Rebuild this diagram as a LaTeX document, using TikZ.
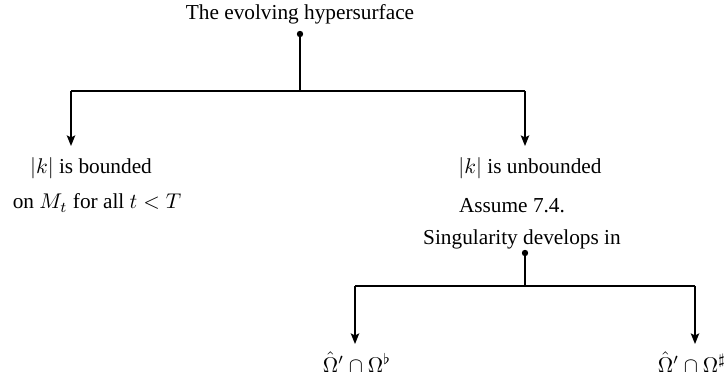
\documentclass[tikz,border=0pt]{standalone}
\usepackage{fontspec}
\setmainfont{Liberation Serif}
\usetikzlibrary{arrows.meta}
\begin{document}
\begin{tikzpicture}[x=0.4695pt,y=-0.4695pt,
  lbl/.style={inner sep=0pt,anchor=center,font=\fontsize{10}{12}\selectfont},
  conn/.style={line width=0.6pt},
  arr/.style={conn,-{Stealth[length=5pt,width=4pt,inset=1pt]}},
  dotst/.style={circle,fill,inner sep=0pt,minimum size=3pt}]
\useasboundingbox (0,0) rectangle (728,372);
% labels
\node[lbl] (top) at (300,14) {The evolving hypersurface};
\node[lbl] (lb1) at (91,168) {$|k|$ is bounded};
\node[lbl] (lb2) at (97,203) {on $M_t$ for all $t<T$};
\node[lbl] (rb1) at (530,168) {$|k|$ is unbounded};
\node[lbl] (rb2) at (512,206) {Assume 7.4.};
\node[lbl] (rb3) at (522,239) {Singularity develops in};
\node[lbl] (bl) at (357,362) {$\hat{\Omega}'\cap\Omega^\flat$};
\node[lbl] (br) at (692,362) {$\hat{\Omega}'\cap\Omega^\sharp$};
% connector points
\node[dotst] (d1) at (300,34) {};
\coordinate (j1) at (300,91);
\coordinate (l1) at (71,91);
\coordinate (r1) at (525,91);
\coordinate (lt) at (71,146);
\coordinate (rt) at (525,146);
\node[dotst] (d2) at (525,253) {};
\coordinate (j2) at (525,286);
\coordinate (l2) at (355,286);
\coordinate (r2) at (695,286);
\coordinate (blt) at (355,344);
\coordinate (brt) at (695,344);
% connectors
\draw[conn] (d1.center) -- (j1);
\draw[conn] (l1) -- (r1);
\draw[arr] (l1) -- (lt);
\draw[arr] (r1) -- (rt);
\draw[conn] (d2.center) -- (j2);
\draw[conn] (l2) -- (r2);
\draw[arr] (l2) -- (blt);
\draw[arr] (r2) -- (brt);
\end{tikzpicture}
\end{document}
